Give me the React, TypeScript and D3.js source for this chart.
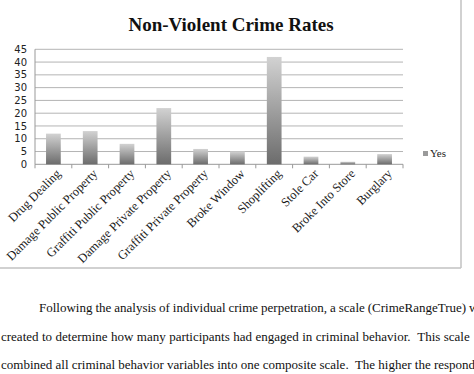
import React from 'react';
import * as d3 from 'd3';

const categories = [
	'Drug Dealing',
	'Damage Public Property',
	'Graffiti Public Property',
	'Damage Private Property',
	'Graffiti Private Property',
	'Broke Window',
	'Shoplifting',
	'Stole Car',
	'Broke Into Store',
	'Burglary',
];
const yesValues = [12, 13, 8, 22, 6, 5, 42, 3, 1, 4];
const yTicks = [0, 5, 10, 15, 20, 25, 30, 35, 40, 45];
const seriesName = 'Yes';
const title = 'Non-Violent Crime Rates';
const paragraph = [
	'Following the analysis of individual crime perpetration, a scale (CrimeRangeTrue) was',
	'created to determine how many participants had engaged in criminal behavior.  This scale',
	'combined all criminal behavior variables into one composite scale.  The higher the respondent',
];

class App extends React.Component {
	node: SVGSVGElement | null = null;

	componentDidMount() {
		this.drawChart();
	}

	drawChart() {
		const w = 474;
		const h = 374;
		const left = 35;
		const right = 403;
		const top = 49.3;
		const bottom = 164.3;
		const serif = '"Liberation Serif", "Times New Roman", serif';

		const svg = d3.select(this.node);
		svg.selectAll('*').remove();
		svg.attr('width', w).attr('height', h);

		const x = d3
			.scaleBand()
			.domain(categories)
			.range([left, right])
			.paddingInner(0.6)
			.paddingOuter(0.3);

		const y = d3
			.scaleLinear()
			.domain([0, 45])
			.range([bottom, top]);

		const grad = svg
			.append('defs')
			.append('linearGradient')
			.attr('id', 'barGrad')
			.attr('x1', 0)
			.attr('y1', 0)
			.attr('x2', 0)
			.attr('y2', 1);
		grad.append('stop').attr('offset', '0%').attr('stop-color', '#d2d2d2');
		grad.append('stop').attr('offset', '100%').attr('stop-color', '#6c6c6c');

		// frame of the chart box
		svg.append('line')
			.attr('x1', 461).attr('x2', 461).attr('y1', 0).attr('y2', 268)
			.attr('stroke', '#c2c2c2').attr('stroke-width', 1.5);
		svg.append('line')
			.attr('x1', 0).attr('x2', 461).attr('y1', 268).attr('y2', 268)
			.attr('stroke', '#c2c2c2').attr('stroke-width', 1.5);

		svg.append('text')
			.text(title)
			.attr('x', 231)
			.attr('y', 31)
			.attr('text-anchor', 'middle')
			.attr('font-family', serif)
			.attr('font-weight', 'bold')
			.attr('font-size', '19px')
			.attr('fill', '#111');

		// gridlines
		svg.selectAll('line.grid')
			.data(yTicks.filter(d => d > 0))
			.enter()
			.append('line')
			.attr('class', 'grid')
			.attr('x1', left)
			.attr('x2', right)
			.attr('y1', d => y(d))
			.attr('y2', d => y(d))
			.attr('stroke', '#b4b4b4')
			.attr('stroke-width', 1);

		svg.selectAll('text.ytick')
			.data(yTicks)
			.enter()
			.append('text')
			.attr('class', 'ytick')
			.text(d => d)
			.attr('x', 27)
			.attr('y', d => y(d))
			.attr('dy', '0.36em')
			.attr('text-anchor', 'end')
			.attr('font-family', '"DejaVu Sans", sans-serif')
			.attr('font-size', '10px')
			.attr('fill', '#222');

		// axes
		svg.append('line')
			.attr('x1', left).attr('x2', left).attr('y1', top).attr('y2', bottom)
			.attr('stroke', '#999');
		svg.append('line')
			.attr('x1', left).attr('x2', right).attr('y1', bottom).attr('y2', bottom)
			.attr('stroke', '#999');
		svg.selectAll('line.xtick')
			.data(d3.range(categories.length + 1))
			.enter()
			.append('line')
			.attr('class', 'xtick')
			.attr('x1', i => left + i * x.step())
			.attr('x2', i => left + i * x.step())
			.attr('y1', bottom)
			.attr('y2', bottom + 4)
			.attr('stroke', '#999');

		svg.selectAll('rect.bar')
			.data(yesValues)
			.enter()
			.append('rect')
			.attr('class', 'bar')
			.attr('x', (d, i) => x(categories[i]) as number)
			.attr('y', d => y(d))
			.attr('width', x.bandwidth())
			.attr('height', d => bottom - y(d))
			.attr('fill', 'url(#barGrad)');

		svg.selectAll('text.xlabel')
			.data(categories)
			.enter()
			.append('text')
			.attr('class', 'xlabel')
			.text(d => d)
			.attr('transform', d => `translate(${(x(d) as number) + x.bandwidth() / 2 + 5},${bottom + 7}) rotate(-45)`)
			.attr('text-anchor', 'end')
			.attr('dy', '0.35em')
			.attr('font-family', serif)
			.attr('font-size', '12.5px')
			.attr('fill', '#1a1a1a');

		// legend
		svg.append('rect')
			.attr('x', 423).attr('y', 151).attr('width', 5).attr('height', 5)
			.attr('fill', '#9a9a9a');
		svg.append('text')
			.text(seriesName)
			.attr('x', 430)
			.attr('y', 157)
			.attr('font-family', serif)
			.attr('font-size', '11px')
			.attr('fill', '#222');

		// body text under the figure
		const wordSpacing = [-0.3, 0.2, 0];
		svg.selectAll('text.para')
			.data(paragraph)
			.enter()
			.append('text')
			.attr('class', 'para')
			.text(d => d)
			.attr('x', (d, i) => (i === 0 ? 39 : 1))
			.attr('y', (d, i) => 312 + i * 28.5)
			.attr('xml:space', 'preserve')
			.style('white-space', 'pre')
			.style('word-spacing', (d, i) => `${wordSpacing[i]}px`)
			.attr('font-family', serif)
			.attr('font-size', '13px')
			.attr('fill', '#111');
	}

	render() {
		return (
			<svg
				ref={el => { this.node = el; }}
				style={{ position: 'absolute', left: 0, top: 0, background: '#fff' }}
			/>
		);
	}
}

export default App;
